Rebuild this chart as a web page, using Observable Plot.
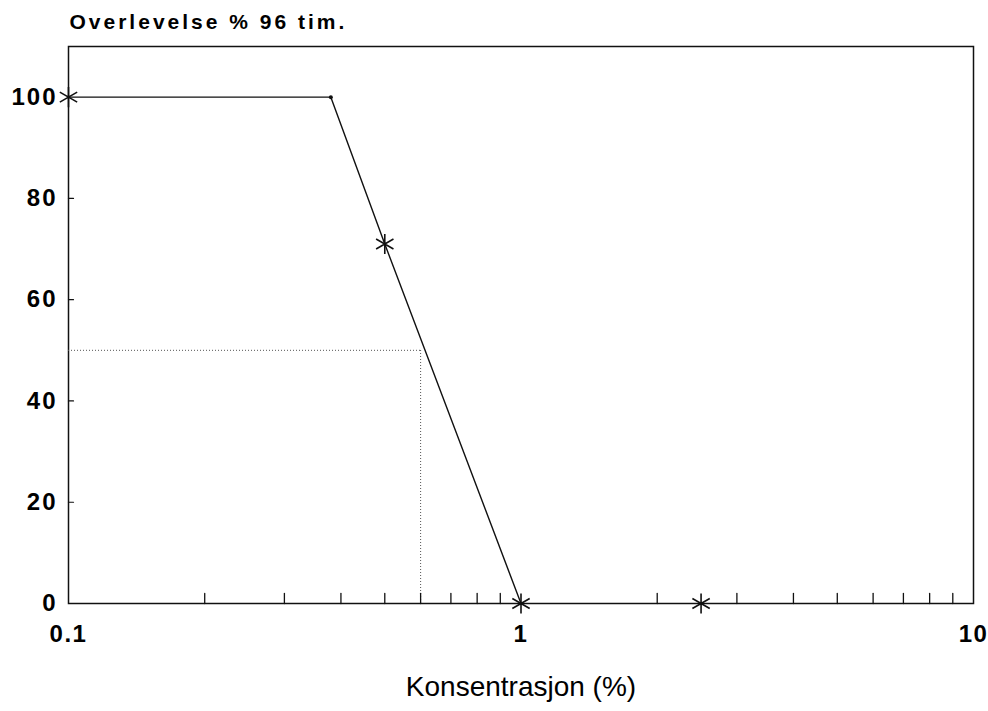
<!DOCTYPE html>
<html>
<head>
<meta charset="utf-8">
<script src="https://cdn.jsdelivr.net/npm/d3@7"></script>
<script src="https://cdn.jsdelivr.net/npm/@observablehq/plot@0.6"></script>
<style>
  html, body { margin: 0; padding: 0; background: #fff; }
  #chart svg { display: block; }
</style>
</head>
<body>
<div id="chart"></div>
<script>
// Data
const concentrations = [0.1, 0.38, 0.5, 1];          // line path (%)
const survival       = [100, 100, 71, 0];            // survival (%)
const starConc       = [0.1, 0.5, 1, 2.5];           // asterisk markers
const starSurv       = [100, 71, 0, 0];
const smallDotConc   = [0.38];
const smallDotSurv   = [100];
const lc50Conc       = 0.6;                          // dotted guide
const lc50Surv       = 50;
const xTickValues    = [0.1, 1, 10];
const xMinorTicks    = [0.2,0.3,0.4,0.5,0.6,0.7,0.8,0.9,2,3,4,5,6,7,8,9];
const yTickValues    = [0, 20, 40, 60, 80, 100];
const titleText      = "Overlevelse % 96 tim.";
const xLabel         = "Konsentrasjon (%)";

const lineData = concentrations.map((c, i) => ({c, s: survival[i]}));
const starData = starConc.map((c, i) => ({c, s: starSurv[i]}));
const smallDots = smallDotConc.map((c, i) => ({c, s: smallDotSurv[i]}));
const minorData = xMinorTicks.map(v => ({c: v, s: 0}));
const yTickData = yTickValues.filter(v => v > 0 && v < 100).map(v => ({c: xTickValues[0], s: v}));

const font = "Liberation Sans, Arial, sans-serif";
const tickShape = {draw(ctx, l) { ctx.moveTo(0, 0); ctx.lineTo(0, -l); }};

const chart = Plot.plot({
  width: 988,
  height: 711,
  marginLeft: 68,
  marginRight: 15,
  marginTop: 46,
  marginBottom: 108,
  style: {fontFamily: font, background: "#fff", color: "#000"},
  x: {type: "log", domain: [0.1, 10]},
  y: {domain: [0, 110]},
  marks: [
    Plot.frame({stroke: "#111", strokeWidth: 1.5}),
    // LC50 dotted guides
    Plot.ruleY([lc50Surv], {x1: xTickValues[0], x2: lc50Conc, stroke: "#555", strokeDasharray: "1,2", strokeWidth: 1}),
    Plot.ruleX([lc50Conc], {y1: 0, y2: lc50Surv, stroke: "#555", strokeDasharray: "1,2", strokeWidth: 1}),
    // minor ticks inside the frame
    Plot.vector(minorData, {x: "c", y: "s", length: 10, rotate: 0, anchor: "start", stroke: "#111", strokeWidth: 1.3, shape: tickShape}),
    Plot.vector(yTickData, {x: "c", y: "s", length: 5, rotate: 90, anchor: "start", stroke: "#111", strokeWidth: 1.2, shape: tickShape}),
    Plot.line(lineData, {x: "c", y: "s", stroke: "#111", strokeWidth: 1.4}),
    Plot.dot(starData, {x: "c", y: "s", symbol: "asterisk", r: 9.5, stroke: "#111", strokeWidth: 1.6}),
    Plot.dot(smallDots, {x: "c", y: "s", r: 2, fill: "#111"}),
    Plot.axisY({ticks: yTickValues, tickSize: 0, tickPadding: 11, label: null, fontSize: 24, fontWeight: "bold"}),
    Plot.axisX({ticks: xTickValues, tickSize: 0, tickPadding: 21, label: null, tickFormat: d => String(d), fontSize: 24, fontWeight: "bold"}),
    Plot.text([titleText], {frameAnchor: "top-left", dx: 1, dy: -18, lineAnchor: "bottom", fontSize: 21, fontWeight: "bold", textAnchor: "start"}),
    Plot.text([xLabel], {frameAnchor: "bottom", dy: 92, lineAnchor: "bottom", fontSize: 28, fontWeight: "normal"})
  ]
});
// letter spacing to mimic the wide print font
d3.select(chart).selectAll('g[aria-label="y-axis tick label"] text').style("letter-spacing", "2px");
d3.select(chart).selectAll('g[aria-label="x-axis tick label"] text').style("letter-spacing", "1.5px");
d3.select(chart).selectAll("text").filter(function() { return this.textContent === titleText; }).style("letter-spacing", "3px");
document.getElementById("chart").appendChild(chart);
</script>
</body>
</html>
